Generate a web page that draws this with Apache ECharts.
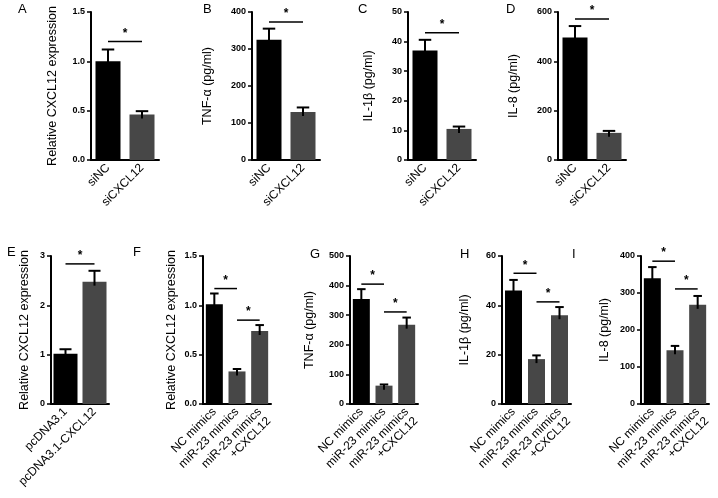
<!DOCTYPE html>
<html><head><meta charset="utf-8">
<script src="https://cdn.jsdelivr.net/npm/echarts@6/dist/echarts.min.js"></script>
<style>html,body{margin:0;padding:0;background:#fff}#c{width:718px;height:498px}</style>
</head><body><div id="c"></div>
<script>
// ---- data ----
const catsSi = ['siNC', 'siCXCL12'];
const catsPc = ['pcDNA3.1', 'pcDNA3.1-CXCL12'];
const catsMimic = ['NC mimics', 'miR-23 mimics', 'miR-23 mimics\n+CXCL12'];

const meanA = [1.00, 0.46];  const errA = [0.12, 0.035];
const meanB = [325, 130];    const errB = [30, 12];
const meanC = [37, 10.5];    const errC = [3.6, 0.8];
const meanD = [497, 110];    const errD = [46, 8];
const meanE = [1.02, 2.48];  const errE = [0.09, 0.22];
const meanF = [1.01, 0.33, 0.74]; const errF = [0.11, 0.025, 0.06];
const meanG = [355, 62, 268];     const errG = [33, 4, 24];
const meanH = [46, 18.2, 36];     const errH = [4.3, 1.5, 3.3];
const meanI = [340, 145, 268];    const errI = [30, 12, 24];

// significance brackets: [fromIndex, toIndex, height]
const sigA = [[0, 1, 1.2]];
const sigB = [[0, 1, 373]];
const sigC = [[0, 1, 43]];
const sigD = [[0, 1, 572]];
const sigE = [[0, 1, 2.84]];
const sigF = [[0, 1, 1.17], [1, 2, 0.85]];
const sigG = [[0, 1, 405], [1, 2, 311]];
const sigH = [[0, 1, 53], [1, 2, 41.4]];
const sigI = [[0, 1, 386], [1, 2, 311]];

// y tick labels
const yTicksA = [0, 0.5, 1.0, 1.5];
const yTicksB = [0, 100, 200, 300, 400];
const yTicksC = [0, 10, 20, 30, 40, 50];
const yTicksD = [0, 200, 400, 600];
const yTicksE = [0, 1, 2, 3];
const yTicksF = [0, 0.5, 1.0, 1.5];
const yTicksG = [0, 100, 200, 300, 400, 500];
const yTicksH = [0, 20, 40, 60];
const yTicksI = [0, 100, 200, 300, 400];

const yNames = ['Relative CXCL12 expression', 'TNF-α (pg/ml)', 'IL-1β (pg/ml)', 'IL-8 (pg/ml)',
  'Relative CXCL12 expression', 'Relative CXCL12 expression', 'TNF-α (pg/ml)', 'IL-1β (pg/ml)', 'IL-8 (pg/ml)'];
const letters = ['A', 'B', 'C', 'D', 'E', 'F', 'G', 'H', 'I'];

// ---- layout ----
const panels = [
  {cats: catsSi, mean: meanA, err: errA, sig: sigA, ticks: yTicksA, dec: 1, grid: {left: 91, top: 12, width: 68, height: 148}, barW: 25, gap: 32, lp: [18, 10]},
  {cats: catsSi, mean: meanB, err: errB, sig: sigB, ticks: yTicksB, dec: 0, grid: {left: 252, top: 12, width: 68, height: 148}, barW: 25, gap: 38, lp: [203, 10]},
  {cats: catsSi, mean: meanC, err: errC, sig: sigC, ticks: yTicksC, dec: 0, grid: {left: 408, top: 12, width: 68, height: 148}, barW: 25, gap: 33, lp: [358, 10]},
  {cats: catsSi, mean: meanD, err: errD, sig: sigD, ticks: yTicksD, dec: 0, grid: {left: 558, top: 12, width: 68, height: 148}, barW: 25, gap: 38, lp: [506, 10]},
  {cats: catsPc, mean: meanE, err: errE, sig: sigE, ticks: yTicksE, dec: 0, grid: {left: 51, top: 256, width: 58, height: 148}, barW: 24, gap: 20, lp: [7, 253]},
  {cats: catsMimic, mean: meanF, err: errF, sig: sigF, ticks: yTicksF, dec: 1, grid: {left: 203, top: 256, width: 68, height: 148}, barW: 17, gap: 25, lp: [133, 253]},
  {cats: catsMimic, mean: meanG, err: errG, sig: sigG, ticks: yTicksG, dec: 0, grid: {left: 350, top: 256, width: 68, height: 148}, barW: 17, gap: 34, lp: [310, 255]},
  {cats: catsMimic, mean: meanH, err: errH, sig: sigH, ticks: yTicksH, dec: 0, grid: {left: 502, top: 256, width: 69, height: 148}, barW: 17, gap: 31, lp: [460, 255]},
  {cats: catsMimic, mean: meanI, err: errI, sig: sigI, ticks: yTicksI, dec: 0, grid: {left: 641, top: 256, width: 68, height: 148}, barW: 17, gap: 30, lp: [572, 255]}
];

const FONT = 'Liberation Sans, Arial, sans-serif';
const grids = [], xAxes = [], yAxes = [], series = [], graphics = [];

function errRender(barW) {
  return function (params, api) {
    const x = api.value(0);
    const top = api.coord([x, api.value(2)]);
    const base = api.coord([x, api.value(1)]);
    const half = barW * 0.25;
    return {type: 'group', children: [
      {type: 'line', shape: {x1: top[0], y1: top[1], x2: top[0], y2: base[1] + 4}, style: {stroke: '#000', lineWidth: 2}},
      {type: 'line', shape: {x1: top[0] - half, y1: top[1], x2: top[0] + half, y2: top[1]}, style: {stroke: '#000', lineWidth: 2}}
    ]};
  };
}
function sigRender(params, api) {
  const a = api.coord([api.value(0), api.value(2)]);
  const b = api.coord([api.value(1), api.value(2)]);
  return {type: 'group', children: [
    {type: 'line', shape: {x1: a[0], y1: a[1], x2: b[0], y2: a[1]}, style: {stroke: '#000', lineWidth: 1.5}},
    {type: 'text', style: {text: '*', x: (a[0] + b[0]) / 2, y: a[1] - 2, align: 'center', verticalAlign: 'bottom', font: 'bold 12px ' + FONT, fill: '#000'}}
  ]};
}

panels.forEach((p, k) => {
  grids.push(Object.assign({outerBoundsMode: 'none', containLabel: false}, p.grid));
  xAxes.push({
    type: 'category', gridIndex: k, data: p.cats,
    axisLine: {lineStyle: {color: '#000', width: 2}},
    axisTick: {alignWithLabel: true, length: 4, lineStyle: {color: '#000', width: 1.5}},
    axisLabel: {rotate: 45, interval: 0, margin: 6, fontSize: 12, fontFamily: FONT, color: '#000', lineHeight: 13,
      // keep the first line of a two-line label on the tick
      formatter: v => v.indexOf('\n') >= 0 ? ' \n' + v : v}
  });
  const t = p.ticks;
  yAxes.push({
    type: 'value', gridIndex: k, min: t[0], max: t[t.length - 1], interval: t[1] - t[0],
    name: yNames[k], nameLocation: 'middle', nameRotate: 90, nameGap: p.gap,
    nameTextStyle: {fontSize: 12.5, fontFamily: FONT, color: '#000'},
    axisLine: {show: true, lineStyle: {color: '#000', width: 2}},
    axisTick: {show: true, length: 4, lineStyle: {color: '#000', width: 1.5}},
    splitLine: {show: false},
    axisLabel: {margin: 6, fontSize: 9, fontWeight: 'bold', fontFamily: FONT, color: '#000',
      formatter: v => v.toFixed(p.dec)}
  });
  series.push({
    type: 'bar', xAxisIndex: k, yAxisIndex: k, barWidth: p.barW, z: 2,
    data: p.mean.map((m, i) => ({value: m, itemStyle: {color: i === 0 ? '#000' : '#474747'}}))
  });
  series.push({
    type: 'custom', xAxisIndex: k, yAxisIndex: k, z: 3, clip: false,
    renderItem: errRender(p.barW), encode: {x: 0, y: [1, 2]},
    data: p.mean.map((m, i) => [i, m, m + p.err[i]])
  });
  series.push({
    type: 'custom', xAxisIndex: k, yAxisIndex: k, z: 3, clip: false,
    renderItem: sigRender, encode: {x: [0, 1], y: 2},
    data: p.sig
  });
  graphics.push({type: 'text', left: p.lp[0], top: p.lp[1] - 7,
    style: {text: letters[k], font: '13px ' + FONT, fill: '#000'}});
});

const chart = echarts.init(document.getElementById('c'), null, {renderer: 'canvas'});
chart.setOption({
  animation: false, backgroundColor: '#fff',
  grid: grids, xAxis: xAxes, yAxis: yAxes, series: series, graphic: graphics
});
</script></body></html>
